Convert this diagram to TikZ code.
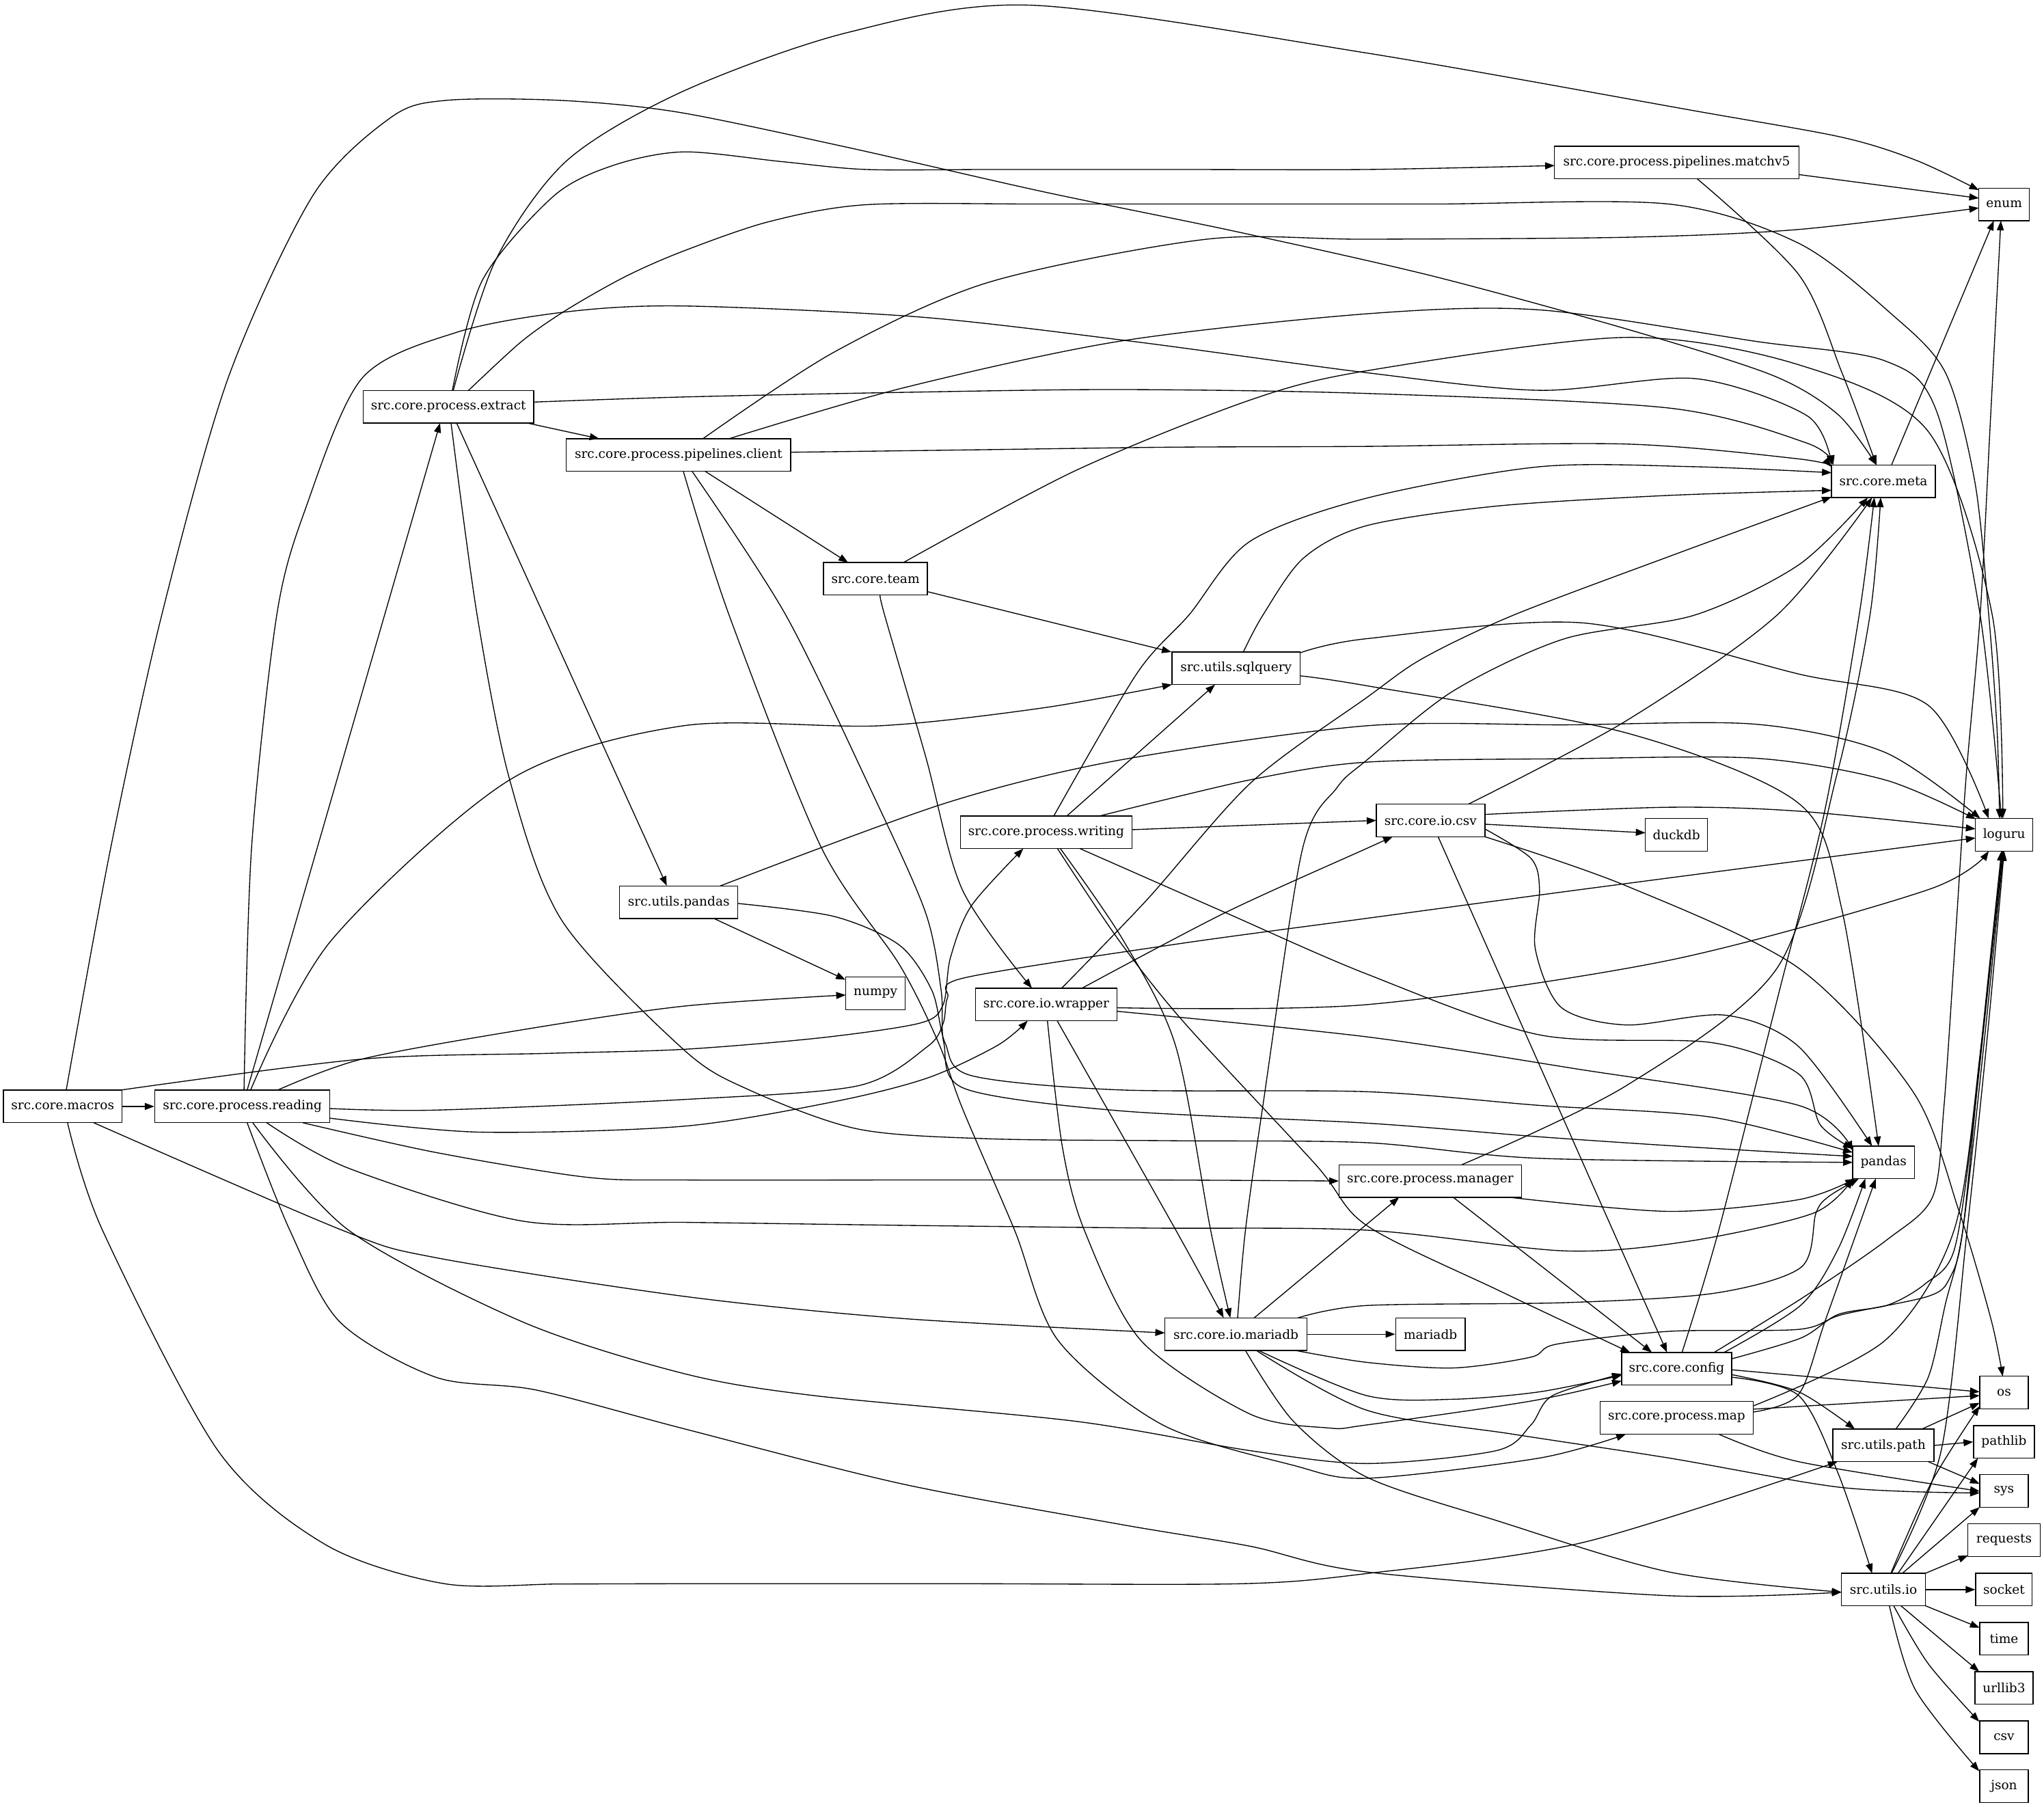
\documentclass[tikz,border=0pt]{standalone}
\usepackage{fontspec}
\setmainfont{DejaVu Serif}
\usetikzlibrary{arrows.meta,calc}
\begin{document}
\begin{tikzpicture}[x=0.03cm,y=-0.03cm,
 box/.style={draw,line width=0.6pt,minimum height=0.75cm,inner sep=0pt,font=\fontsize{8.3}{10}\selectfont},
 e/.style={line width=0.6pt,-{Triangle[length=0.22cm,width=0.16cm]}}]
\useasboundingbox (0,0) rectangle (1568,1386);
% nodes
\node[box,minimum width=2.73cm] (macros) at (48.1,848.7) {src.core.macros};
\node[box,minimum width=4.03cm] (reading) at (185.9,848.7) {src.core.process.reading};
\node[box,minimum width=3.93cm] (extract) at (344,312) {src.core.process.extract};
\node[box,minimum width=5.16cm] (client) at (520.5,349) {src.core.process.pipelines.client};
\node[box,minimum width=5.62cm] (matchv) at (1286.2,124.6) {src.core.process.pipelines.matchv5};
\node[box,minimum width=1.16cm] (enum) at (1537.4,156.8) {enum};
\node[box,minimum width=2.39cm] (meta) at (1444.8,369.2) {src.core.meta};
\node[box,minimum width=2.39cm] (team) at (671.6,444) {src.core.team};
\node[box,minimum width=2.95cm] (sqlq) at (948.2,512.6) {src.utils.sqlquery};
\node[box,minimum width=3.95cm] (writing) at (802.6,638.4) {src.core.process.writing};
\node[box,minimum width=2.5cm] (csv) at (1097.4,629.3) {src.core.io.csv};
\node[box,minimum width=1.43cm] (duckdb) at (1286,640.3) {duckdb};
\node[box,minimum width=1.32cm] (loguru) at (1537.4,640.3) {loguru};
\node[box,minimum width=2.72cm] (upandas) at (520.7,692) {src.utils.pandas};
\node[box,minimum width=1.37cm] (numpy) at (671.6,762) {numpy};
\node[box,minimum width=3.25cm] (wrapper) at (802.6,770.5) {src.core.io.wrapper};
\node[box,minimum width=1.42cm] (pandas) at (1444.9,891.6) {pandas};
\node[box,minimum width=4.19cm] (manager) at (1097.2,905.9) {src.core.process.manager};
\node[box,minimum width=3.27cm] (mdb) at (948.1,1023.4) {src.core.io.mariadb};
\node[box,minimum width=1.6cm] (mariadb) at (1097.3,1023.4) {mariadb};
\node[box,minimum width=2.53cm] (config) at (1286.2,1049.9) {src.core.config};
\node[box,minimum width=3.53cm] (pmap) at (1286.2,1087.6) {src.core.process.map};
\node[box,minimum width=1.12cm] (os) at (1537.3,1068.2) {os};
\node[box,minimum width=2.33cm] (upath) at (1444.8,1108.7) {src.utils.path};
\node[box,minimum width=1.4cm] (pathlib) at (1537.3,1106) {pathlib};
\node[box,minimum width=1.12cm] (sys) at (1537.3,1143.6) {sys};
\node[box,minimum width=1.66cm] (requests) at (1537.3,1181.4) {requests};
\node[box,minimum width=1.93cm] (uio) at (1444.8,1219.3) {src.utils.io};
\node[box,minimum width=1.3cm] (socket) at (1537.3,1219.3) {socket};
\node[box,minimum width=1.12cm] (time) at (1537.3,1257) {time};
\node[box,minimum width=1.34cm] (urllib) at (1537.3,1294.8) {urllib3};
\node[box,minimum width=1.12cm] (csvx) at (1537.3,1332.6) {csv};
\node[box,minimum width=1.12cm] (json) at (1537.3,1370) {json};
% edges from macros
\draw[e] plot[smooth,tension=0.5] coordinates {($(macros)+(2.7,-12.5)$) (85,650) (124,472) (175,290) (240,150) (300,90) (342,77) (430,77) (520,86) (650,113) (800,147) (950,178) (1100,212) (1250,253) (1360,288) (1410,318) ($(meta)+(-5.4,-12.5)$)};
\draw[e] (macros.east) -- (reading.west);
\draw[e] plot[smooth,tension=0.5] coordinates {($(macros)+(44,-12.5)$) (277.5,812.4) (420,808) (524.2,804.9) (630,796) (706,784.7) (723.5,770.6) (729,735) (745,695) ($(writing)+(-17.6,12.5)$)};
\draw[e] plot[smooth,tension=0.5] coordinates {($(macros)+(23.8,12.5)$) (262.4,943.6) (334.3,964.7) (524.2,994.3) (691.4,1011.3) ($(mdb)+(-54.5,-1)$)};
\draw[e] plot[smooth,tension=0.5] coordinates {($(macros)+(3.7,12.5)$) (78.6,943.6) (167.2,1112.7) (250,1185) (341,1214.8) (430,1215) (524.2,1214.8) (740,1214.8) (952,1214.8) (1048.4,1207) (1214.2,1183.2) ($(upath)+(-35.2,12.5)$)};
% edges from reading
\draw[e] plot[smooth,tension=0.5] coordinates {($(reading)+(67.2,1.6)$) (334.3,851.5) (524.2,843.4) (658,832.9) (711.4,802.8) (723.5,785) (727,765) (740,750) (901.7,724.3) (1048.5,704.4) (1200,684) (1360,663) ($(loguru)+(-22,2.5)$)};
\draw[e] ($(reading)+(3.7,-12.5)$) -- ($(extract)+(-6.4,12.5)$);
\draw[e] plot[smooth,tension=0.5] coordinates {($(reading)+(1.3,-12.5)$) (193,650) (212.3,471.8) (234,391.2) (277.5,290.4) (350,255) (434.6,239.2) (524.2,234.7) (704.7,243.1) (870,262) (1048.4,285.9) (1181,299.4) (1300.3,290.4) (1386.4,319) ($(meta)+(-39.8,-12.5)$)};
\draw[e] plot[smooth,tension=0.5] coordinates {($(reading)+(6.3,-12.5)$) (254,721.5) (391,598.2) (524.2,556.7) (674.6,556.7) (800,543) ($(sqlq)+(-49.2,12.5)$)};
\draw[e] plot[smooth,tension=0.5] coordinates {($(reading)+(27,-12.5)$) (277.5,812.4) (400,790) (524.2,771.8) ($(numpy)+(-22.8,1.2)$)};
\draw[e] plot[smooth,tension=0.5] coordinates {($(reading)+(67.2,9)$) (367.7,868.4) (524.2,863.9) (640,845) (711.4,826.9) (765,802) ($(wrapper)+(-14.3,12.5)$)};
\draw[e] plot[smooth,tension=0.5] coordinates {($(reading)+(46.4,12.5)$) (334.3,884) (450,903) (524.2,905.1) (700,905.1) (880,905.1) (manager.west)};
\draw[e] plot[smooth,tension=0.5] coordinates {($(reading)+(18.7,12.5)$) (267.4,896.1) (401.2,936.7) (524.2,937.6) (700,940) (880,942) (1048.4,943.6) (1200.5,959.5) (1296,952) (1391,930.6) ($(pandas)+(-23.7,12.5)$)};
\draw[e] plot[smooth,tension=0.5] coordinates {($(reading)+(8,12.5)$) (267.4,943.6) (401.2,1014.1) (524.2,1053.5) (624.5,1070.5) (825.1,1090.2) (958.8,1112.7) (1048.4,1122.6) (1147.9,1112.7) (1174.4,1093) (1191,1070.5) ($(config)+(-42.2,4)$)};
\draw[e] plot[smooth,tension=0.5] coordinates {($(reading)+(3.7,12.5)$) (222.3,943.6) (260.8,1014.1) (334.3,1056.4) (411.2,1066.2) (524.2,1095.8) (691.4,1138.1) (858.5,1169.1) (958.8,1186) (1048.4,1205.8) (1280.4,1224) ($(uio)+(-32.2,2)$)};
% edges from extract
\draw[e] plot[smooth,tension=0.5] coordinates {($(extract)+(3.7,-12.5)$) (380,200) (434.6,123.4) (524,70) (650,25) (791.6,4) (1048,40.6) (1300,85) (1413,105.3) (1470,123) ($(enum)+(-19.4,-11)$)};
\draw[e] plot[smooth,tension=0.5] coordinates {($(extract)+(3,-12.5)$) (370,215) (424.6,150.5) (470,127) (524.2,116.5) (600,124) (664.6,130) (760,130) (900,130) (1048,130) ($(matchv)+(-93.6,2.4)$)};
\draw[e] plot[smooth,tension=0.5] coordinates {($(extract)+(15.4,-12.5)$) (400,262) (434.6,237.7) (480,212) (524.2,192.6) (590,170) (664.6,157) (800,156.5) (950,156.5) (1100,156.5) (1280,156.5) (1379.8,186.6) (1450,240) (1492.4,285.9) (1515,370) (1525.6,471.8) (1532,560) ($(loguru)+(-3.5,-12.5)$)};
\draw[e] plot[smooth,tension=0.5] coordinates {($(extract)+(65.5,-3.6)$) (524.2,304.5) (690,301) (858.5,298.8) (1048.4,301.8) (1280.4,313) (1386.4,340) ($(meta)+(-38.5,-12.5)$)};
\draw[e] ($(extract)+(60.5,12.5)$) -- ($(client)+(-60.8,-12.5)$);
\draw[e] ($(extract)+(6.3,12.5)$) -- ($(upandas)+(-9.2,-12.5)$);
\draw[e] plot[smooth,tension=0.5] coordinates {($(extract)+(2,12.5)$) (366,471.8) (391,598.2) (431.3,706.5) (524.2,804.9) (574.4,835.9) (658,866) (758.2,873.5) (900,875) (1048.4,876.5) (1181,888.5) ($(pandas)+(-23.7,0)$)};
% edges from client
\draw[e] plot[smooth,tension=0.5] coordinates {($(client)+(18.7,-12.5)$) (640,270) (758.2,216.6) (925.4,183.5) (1048.4,183.5) (1247.3,182) (1379.8,176) ($(enum)+(-19.4,2.7)$)};
\draw[e] plot[smooth,tension=0.5] coordinates {($(client)+(38.8,-12.5)$) (691.4,297.9) (858.5,261.8) (1048.4,240.7) (1181,237.7) (1346.7,261.8) (1446,276.8) (1485.8,316) (1519,471.8) ($(loguru)+(-2,-12.5)$)};
\draw[e] plot[smooth,tension=0.5] coordinates {($(client)+(86,-2.1)$) (750,345) (900,343) (1048.4,342.4) (1247.3,340.6) (1379.8,352) ($(meta)+(-39.8,-11)$)};
\draw[e] ($(client)+(20.4,12.5)$) -- ($(team)+(-21,-12.5)$);
\draw[e] plot[smooth,tension=0.5] coordinates {($(client)+(10.4,12.5)$) (602.8,471.8) (670,610) (710,700) (722,760) (724,800) (740,835) (858.5,852) (1048.4,861.5) (1181,872) (1300,880) ($(pandas)+(-23.7,-4.6)$)};
\draw[e] plot[smooth,tension=0.5] coordinates {($(client)+(3.7,12.5)$) (559.3,471.8) (630,650) (690,740) (720,800) (738.2,850) (778.3,943.6) (811.7,1028.2) (891.9,1093) (992.2,1124) (1048.4,1133.9) (1181,1118.4) ($(pmap)+(-39,12.5)$)};
% edges from utils.pandas
\draw[e] plot[smooth,tension=0.5] coordinates {($(upandas)+(31.9,-12.5)$) (724.8,616.2) (858.5,583.1) (1048.4,556.7) (1200,556) (1346.7,555.5) (1446,577.1) ($(loguru)+(-18.4,-12.5)$)};
\draw[e] ($(upandas)+(26.9,12.5)$) -- ($(numpy)+(-23,-10.5)$);
\draw[e] plot[smooth,tension=0.5] coordinates {($(upandas)+(45.3,1)$) (640,703) (690,725) (715,760) (725,800) (745,825) (858.5,836) (1048.5,837.4) (1181,847.9) (1313.5,857) ($(pandas)+(-23.7,-7.6)$)};
% team
\draw[e] plot[smooth,tension=0.5] coordinates {($(team)+(21.4,-12.5)$) (825,361) (958.8,306.9) (1048.4,284.4) (1247.3,258.8) (1379.8,279.8) (1479.2,331) (1528.3,471.8) ($(loguru)+(-1,-12.5)$)};
\draw[e] ($(team)+(39.8,9.8)$) -- ($(sqlq)+(-49.6,-12.5)$);
\draw[e] plot[smooth,tension=0.5] coordinates {($(team)+(3.7,12.5)$) (678.6,471.8) (710,580) (738.2,682.4) ($(wrapper)+(-11,-12.5)$)};
% matchv5, meta
\draw[e] ($(matchv)+(93.6,9.3)$) -- ($(enum)+(-19.4,-4.8)$);
\draw[e] plot[smooth,tension=0.5] coordinates {($(matchv)+(15.7,12.5)$) (1379.8,210.6) (1413,285.9) ($(meta)+(-5.4,-12.5)$)};
\draw[e] ($(meta)+(6.2,-12.5)$) -- ($(enum)+(-7.9,12.5)$);
% sqlquery
\draw[e] plot[smooth,tension=0.5] coordinates {($(sqlq)+(5.6,-12.5)$) (968.8,471.8) (1000,428) (1048.4,403.2) (1147.9,388.2) (1280,380) ($(meta)+(-39.8,6.9)$)};
\draw[e] plot[smooth,tension=0.5] coordinates {($(sqlq)+(49.2,-11.9)$) (1048.4,489.9) (1214.2,477.8) (1379.8,517) (1479.2,541) ($(loguru)+(-11.8,-12.5)$)};
\draw[e] plot[smooth,tension=0.5] coordinates {($(sqlq)+(49.2,5.8)$) (1048.4,526) (1247.3,562.1) (1379.8,616.2) (1412.9,697.5) ($(pandas)+(-3.8,-12.5)$)};
% writing
\draw[e] plot[smooth,tension=0.5] coordinates {($(writing)+(5.8,-12.5)$) (871.9,516.9) (912,471.8) (958.8,415.3) (1048.4,382.1) (1181,358) (1300,358) ($(meta)+(-39.8,-6.6)$)};
\draw[e] ($(writing)+(15.8,-12.5)$) -- ($(sqlq)+(-16.1,12.5)$);
\draw[e] plot[smooth,tension=0.5] coordinates {($(writing)+(40.9,-12.5)$) (958.8,598.2) (1048.4,584.6) (1200,582) (1346.7,581.6) (1446,598.2) ($(loguru)+(-21.8,-12)$)};
\draw[e] ($(writing)+(65.9,-2)$) -- ($(csv)+(-41.6,0)$);
\draw[e] plot[smooth,tension=0.5] coordinates {($(writing)+(10.8,12.5)$) (861.8,721.5) (902,802.8) (928.7,943.6) ($(mdb)+(-4.3,-12.5)$)};
\draw[e] plot[smooth,tension=0.5] coordinates {($(writing)+(8.6,12.5)$) (858.5,721.5) (908.7,784.7) (1009,893) (1048.4,940) (1150,990) ($(config)+(-35.7,-12.5)$)};
\draw[e] plot[smooth,tension=0.5] coordinates {($(writing)+(25.8,12.5)$) (940,700) (1048.4,747.1) (1181,793.8) (1313.5,799.8) (1379.8,823.8) (1396.4,862.9) ($(pandas)+(-23.7,-10.6)$)};
% csv
\draw[e] plot[smooth,tension=0.5] coordinates {($(csv)+(29,-12.5)$) (1247.3,553) (1363.2,471.8) ($(meta)+(-8.7,12.5)$)};
\draw[e] plot[smooth,tension=0.5] coordinates {($(csv)+(41.6,-4.6)$) (1280.4,619.2) (1379.8,622.2) ($(loguru)+(-22,-4.5)$)};
\draw[e] ($(csv)+(41.6,2.9)$) -- ($(duckdb)+(-23.8,-1.5)$);
\draw[e] ($(csv)+(5.8,12.5)$) -- ($(config)+(-7.4,-12.5)$);
\draw[e] plot[smooth,tension=0.5] coordinates {($(csv)+(41.6,6.5)$) (1174.4,658.4) (1181,682.4) (1177.7,727.6) (1197.6,772.7) (1247.3,786.2) (1323.5,778.7) (1379.8,802.8) ($(pandas)+(-8.8,-12.5)$)};
\draw[e] plot[smooth,tension=0.5] coordinates {($(csv)+(41.6,12.5)$) (1247.3,679.4) (1379.8,742.6) (1467.9,838) (1502.9,929.3) (1527.4,1012.2) ($(os)+(-1,-12.5)$)};
% wrapper
\draw[e] plot[smooth,tension=0.5] coordinates {($(wrapper)+(11.8,-12.5)$) (880,690) (960,600) (1048.5,535) (1091.6,504.9) (1161.1,471.8) (1280,427) ($(meta)+(-39.8,12)$)};
\draw[e] plot[smooth,tension=0.5] coordinates {($(wrapper)+(27.4,-12.5)$) (940,700) (1048.4,650.8) ($(csv)+(-29,12.5)$)};
\draw[e] plot[smooth,tension=0.5] coordinates {($(wrapper)+(54.2,2.5)$) (1048.4,770.6) (1280.4,736.6) (1479.2,682.4) ($(loguru)+(-11.8,12.5)$)};
\draw[e] plot[smooth,tension=0.5] coordinates {($(wrapper)+(54.2,5.2)$) (1048.4,795.3) (1210,820) (1379.8,847.9) ($(pandas)+(-23.7,-9)$)};
\draw[e] plot[smooth,tension=0.5] coordinates {($(wrapper)+(8.4,12.5)$) (902,943.6) ($(mdb)+(-9.4,-12.5)$)};
\draw[e] plot[smooth,tension=0.5] coordinates {($(wrapper)+(0.9,12.5)$) (815,880) (831.8,943.6) (875.2,1028.2) (958.8,1084.6) (1019,1095.3) (1048.4,1093) (1174.4,1074.7) ($(config)+(-42.2,9.3)$)};
% manager
\draw[e] plot[smooth,tension=0.5] coordinates {($(manager)+(24.2,-12.5)$) (1247.3,832.9) (1363.2,742.6) (1409.6,592.2) (1434.5,471.8) ($(meta)+(-2.1,12.5)$)};
\draw[e] plot[smooth,tension=0.5] coordinates {($(manager)+(60.6,12.5)$) (1280.4,929.2) (1379.8,920.2) ($(pandas)+(-22,12.5)$)};
\draw[e] ($(manager)+(17.6,12.5)$) -- ($(config)+(-19,-12.5)$);
% mariadb module
\draw[e] plot[smooth,tension=0.5] coordinates {($(mdb)+(1.3,-12.5)$) (955.4,943.6) (968.8,847.9) (998.9,652.3) (1025.6,604.2) (1048.4,583.1) (1114.8,530) (1200,490) (1300,471.8) (1379.8,433.3) ($(meta)+(-12,12.5)$)};
\draw[e] ($(mdb)+(14,-12.5)$) -- ($(manager)+(-23.9,12.5)$);
\draw[e] (mdb.east) -- (mariadb.west);
\draw[e] plot[smooth,tension=0.5] coordinates {($(mdb)+(47.5,-12.5)$) (1048.4,1001.4) (1200.5,999.2) (1314.9,992) (1381.6,972.1) (1393,930.6) (1402.5,918) ($(pandas)+(-19,12.5)$)};
\draw[e] plot[smooth,tension=0.5] coordinates {($(mdb)+(45.8,12.5)$) (1048.4,1045) (1114.8,1049.3) (1174.4,1041) (1194.3,1031) (1280.4,1021.2) (1379.8,1019.7) (1413,1008.4) (1479.2,994.3) (1495.7,980.3) (1505.7,943.6) (1520,800) ($(loguru)+(-2,12.5)$)};
\draw[e] plot[smooth,tension=0.5] coordinates {($(mdb)+(17.4,12.5)$) (1048.4,1070.5) (1114.8,1073.3) (1181,1067.6) ($(config)+(-42.2,5)$)};
\draw[e] plot[smooth,tension=0.5] coordinates {($(mdb)+(15.7,12.5)$) (1048.4,1081.7) (1160,1100) (1280.4,1118.4) (1412.9,1141) ($(sys)+(-18.7,1.6)$)};
\draw[e] plot[smooth,tension=0.5] coordinates {($(mdb)+(7.3,12.5)$) (992.2,1090.2) (1048.4,1133) (1147.9,1166.3) (1280.4,1205.8) ($(uio)+(-32.2,2)$)};
% config
\draw[e] plot[smooth,tension=0.5] coordinates {($(config)+(4.1,-12.5)$) (1318.5,943.6) (1365,760) (1399.7,622.3) (1426.2,471.8) ($(meta)+(-7,12.5)$)};
\draw[e] plot[smooth,tension=0.5] coordinates {($(config)+(36.3,-12.5)$) (1381.6,1001) (1410.2,957.7) ($(pandas)+(-14,12.5)$)};
\draw[e] plot[smooth,tension=0.5] coordinates {($(config)+(28.7,-12.5)$) (1383.5,995) (1448.3,950.4) (1482.6,917.9) (1491.2,849.3) (1500,720) (1508.1,597.6) (1519,471.8) (1527,320) ($(enum)+(-2.5,12.5)$)};
\draw[e] plot[smooth,tension=0.5] coordinates {($(config)+(42.2,-7.6)$) (1381.6,1026.3) (1410.2,1008.2) (1448.3,1001) (1476.9,984.7) (1499.4,957.7) (1515,850) ($(loguru)+(-1.5,12.5)$)};
\draw[e] ($(config)+(42.2,0.8)$) -- ($(os)+(-18.7,-0.6)$);
\draw[e] plot[smooth,tension=0.5] coordinates {($(config)+(42.2,4.5)$) (1379.8,1067.6) ($(upath)+(-21.9,-12.5)$)};
\draw[e] plot[smooth,tension=0.5] coordinates {($(config)+(42.2,6.5)$) (1379.8,1070.5) (1410,1130) ($(uio)+(-8.7,-12.5)$)};
% map
\draw[e] plot[smooth,tension=0.5] coordinates {($(pmap)+(58.8,-9.2)$) (1446,1028.2) (1499,943.6) (1520,800) ($(loguru)+(-1,12.5)$)};
\draw[e] plot[smooth,tension=0.5] coordinates {($(pmap)+(58.8,-4.5)$) (1379.7,1069.6) (1400.6,1011.8) ($(pandas)+(-6,12.5)$)};
\draw[e] ($(pmap)+(58.8,-6.7)$) -- ($(os)+(-18.7,2.3)$);
\draw[e] plot[smooth,tension=0.5] coordinates {($(pmap)+(32.3,12.5)$) (1379.8,1121.2) ($(sys)+(-18.7,0.2)$)};
% utils.path
\draw[e] ($(upath)+(29.4,-12.5)$) -- ($(os)+(-18.7,7.9)$);
\draw[e] (upath.east) -- (pathlib.west);
\draw[e] ($(upath)+(34.4,12.5)$) -- ($(sys)+(-18.7,-5.5)$);
\draw[e] plot[smooth,tension=0.5] coordinates {($(upath)+(9.5,-12.5)$) (1479.2,1056.4) (1492.4,1000) (1505.7,943.6) (1522,800) ($(loguru)+(-0.5,12.5)$)};
% utils.io
\draw[e] plot[smooth,tension=0.5] coordinates {($(uio)+(5.7,-12.5)$) (1481.9,1136.6) ($(os)+(-18.7,10.4)$)};
\draw[e] ($(uio)+(11.2,-12.5)$) -- ($(pathlib)+(-20,12.5)$);
\draw[e] ($(uio)+(14.5,-12.5)$) -- ($(sys)+(-18.7,12.5)$);
\draw[e] ($(uio)+(32.2,-12.5)$) -- ($(requests)+(-27.6,11.7)$);
\draw[e] (uio.east) -- (socket.west);
\draw[e] ($(uio)+(32.2,12.4)$) -- ($(time)+(-18.7,-8.4)$);
\draw[e] ($(uio)+(13.5,12.5)$) -- ($(urllib)+(-19,-12.5)$);
\draw[e] plot[smooth,tension=0.5] coordinates {($(uio)+(7.9,12.5)$) (1479.2,1276.2) ($(csvx)+(-19,-12)$)};
\draw[e] plot[smooth,tension=0.5] coordinates {($(uio)+(4.6,12.5)$) (1469.2,1296) ($(json)+(-19,-11.4)$)};
\draw[e] plot[smooth,tension=0.5] coordinates {($(uio)+(6.2,-12.5)$) (1489.1,1112.7) (1509,943.6) (1525,790) ($(loguru)+(0,12.5)$)};
\end{tikzpicture}
\end{document}
